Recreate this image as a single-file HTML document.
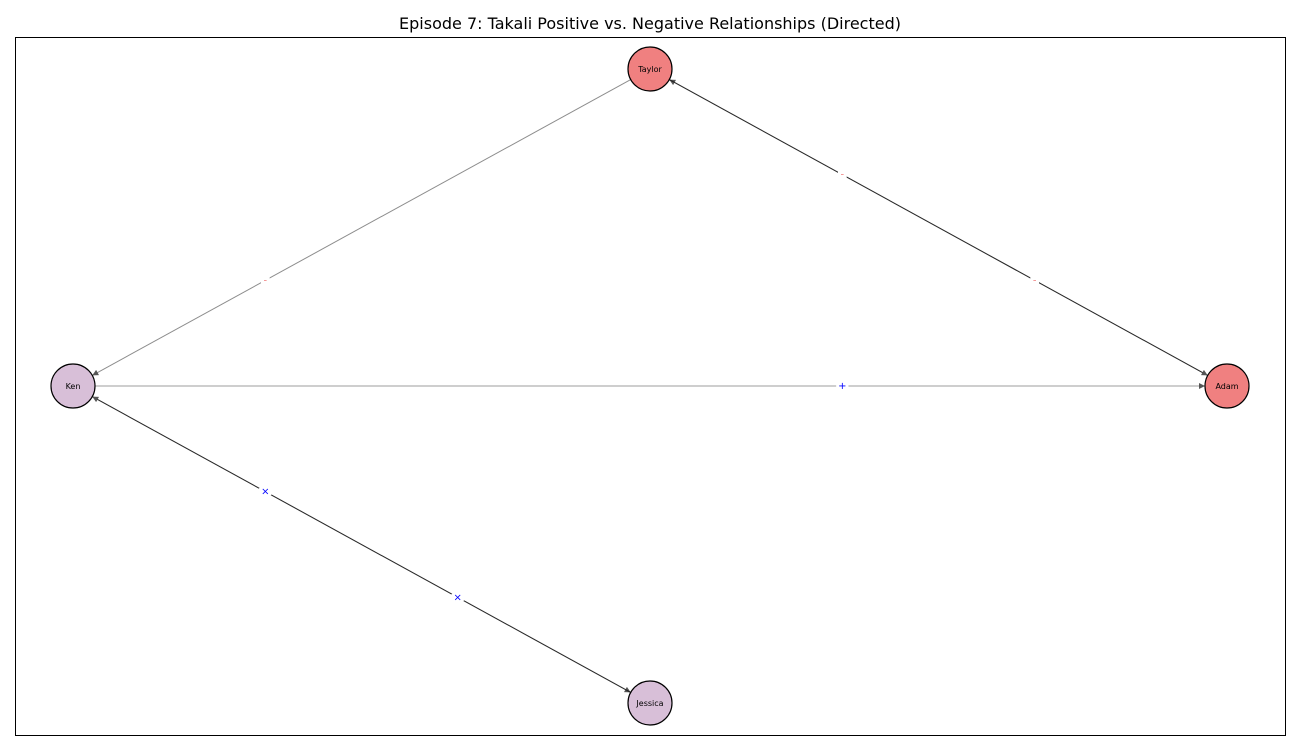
<!DOCTYPE html>
<html><head><meta charset="utf-8"><style>body{margin:0;background:#fff}svg{display:block}text{font-family:"DejaVu Sans","Liberation Sans",sans-serif}</style></head>
<body>
<svg width="1300" height="750">
<defs><marker id="ar" viewBox="0 0 10 10" refX="10" refY="5" markerWidth="8" markerHeight="6" orient="auto" markerUnits="userSpaceOnUse"><path d="M0,0L10,5L0,10z" fill="#555"/></marker></defs>
<text x="650" y="29" text-anchor="middle" font-size="16">Episode 7: Takali Positive vs. Negative Relationships (Directed)</text>
<rect x="15.5" y="37.5" width="1270" height="698" fill="none" stroke="#000"/>
<g id="edges"></g><g id="nodes"></g>
</svg>
<script>
const nodeNames=["Taylor","Ken","Adam","Jessica"];
const nodeX=[650,73,1227,650];
const nodeY=[69,386,386,703];
const nodeColors=["#f08080","#d8bfd8","#f08080","#d8bfd8"];
const edgeSrc=[0,2,0,1,1,3];
const edgeDst=[1,0,2,2,3,1];
const edgeSign=["-","-","-","+","×","×"];
const edgeAlpha=[0.45,0.6,0.6,0.38,0.6,0.6];
const NS="http://www.w3.org/2000/svg",R=22;
const eg=document.getElementById('edges'),ng=document.getElementById('nodes');
for(let i=0;i<edgeSrc.length;i++){
const a=edgeSrc[i],b=edgeDst[i];
const dx=nodeX[b]-nodeX[a],dy=nodeY[b]-nodeY[a],L=Math.hypot(dx,dy),ux=dx/L,uy=dy/L;
const l=document.createElementNS(NS,'line');


l.setAttribute('x1',nodeX[a]+ux*R);l.setAttribute('y1',nodeY[a]+uy*R);
l.setAttribute('x2',nodeX[b]-ux*R);l.setAttribute('y2',nodeY[b]-uy*R);
l.setAttribute('stroke','#000');l.setAttribute('stroke-opacity',edgeAlpha[i]);l.setAttribute('stroke-width','1');
l.setAttribute('marker-end','url(#ar)');eg.appendChild(l);
}
for(let i=0;i<edgeSrc.length;i++){
const a=edgeSrc[i],b=edgeDst[i];
const dx=nodeX[b]-nodeX[a],dy=nodeY[b]-nodeY[a];
const t=document.createElementNS(NS,'text');


t.setAttribute('x',nodeX[a]+dx*2/3);t.setAttribute('y',nodeY[a]+dy*2/3+3);
t.setAttribute('text-anchor','middle');t.setAttribute('font-size','10');
t.setAttribute('fill',edgeSign[i]==='-'?'#f08080':'#0000ff');
t.setAttribute('stroke','#fff');t.setAttribute('stroke-width','6');t.setAttribute('paint-order','stroke');
t.textContent=edgeSign[i];eg.appendChild(t);}
for(let i=0;i<nodeNames.length;i++){
const c=document.createElementNS(NS,'circle');


c.setAttribute('cx',nodeX[i]);c.setAttribute('cy',nodeY[i]);c.setAttribute('r',R);
c.setAttribute('fill',nodeColors[i]);c.setAttribute('stroke','#000');c.setAttribute('stroke-width','1.2');ng.appendChild(c);
const t=document.createElementNS(NS,'text');


t.setAttribute('x',nodeX[i]);t.setAttribute('y',nodeY[i]+3);t.setAttribute('text-anchor','middle');t.setAttribute('font-size','8');
t.textContent=nodeNames[i];ng.appendChild(t);}
</script>
</body></html>
